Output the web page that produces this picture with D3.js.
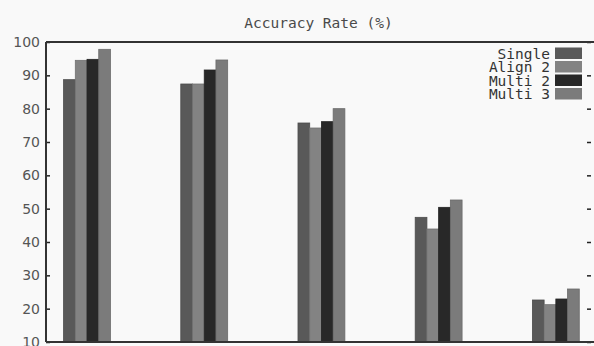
<!DOCTYPE html>
<html>
<head>
<meta charset="utf-8">
<script src="https://cdn.jsdelivr.net/npm/d3@7"></script>
<style>
body { margin: 0; background: #f9f9f9; }
svg { display: block; }
</style>
</head>
<body>
<div class="graph"></div>
<script>
// data
var groups = [0, 1, 2, 3, 4];
var seriesNames = ["Single", "Align 2", "Multi 2", "Multi 3"];
var single = [88.7, 87.4, 75.7, 47.4, 22.6];
var align2 = [94.5, 87.4, 74.2, 43.9, 21.2];
var multi2 = [94.8, 91.6, 76.1, 50.4, 22.9];
var multi3 = [97.8, 94.6, 80.0, 52.6, 25.9];
var yTicks = [10, 20, 30, 40, 50, 60, 70, 80, 90, 100];

var seriesColors = ["#595959", "#838383", "#282828", "#7b7b7b"];
var allSeries = [single, align2, multi2, multi3];

var width = 594, height = 346;
var plotLeft = 46, plotRight = 591, plotTop = 42, plotBottom = 342;

var svg = d3.select(".graph").append("svg")
	.attr("width", width)
	.attr("height", height);

var xScale = d3.scaleLinear().domain([-0.35, 4.3]).range([plotLeft, plotRight]);
var yScale = d3.scaleLinear().domain([10, 100]).range([plotBottom, plotTop]);
var barW = 0.1;

// title, centred over the plot
svg.append("text")
	.attr("x", (plotLeft + plotRight) / 2)
	.attr("y", 28)
	.attr("text-anchor", "middle")
	.attr("font-family", "DejaVu Sans Mono, monospace")
	.attr("font-size", 14.5)
	.attr("fill", "#4a4a4a")
	.text("Accuracy Rate (%)");

// bars
allSeries.forEach(function(vals, s) {
	svg.append("g").selectAll("rect")
		.data(groups)
		.enter()
		.append("rect")
		.attr("x", function(g){ return xScale(g - 2*barW + s*barW); })
		.attr("width", xScale(barW) - xScale(0))
		.attr("y", function(g){ return yScale(vals[g]); })
		.attr("height", function(g){ return yScale(10) - yScale(vals[g]); })
		.style("fill", seriesColors[s])
		.style("stroke", d3.color(seriesColors[s]).darker(0.4))
		.style("stroke-width", 0.8);
});

// axes
var yAxis = d3.axisLeft(yScale).tickValues(yTicks).tickSize(-4).tickPadding(10);
var gy = svg.append("g")
	.attr("transform", "translate(" + plotLeft + ",0)")
	.call(yAxis);
gy.select(".domain").remove();
gy.selectAll("line").attr("stroke", "#222").attr("stroke-width", 1.5);
gy.selectAll("text")
	.attr("font-family", "DejaVu Sans, sans-serif")
	.attr("font-size", 14)
	.attr("fill", "#555")
	.attr("dx", 4);

var yAxisR = d3.axisRight(yScale).tickValues(yTicks).tickSize(-4).tickFormat("");
var gr = svg.append("g")
	.attr("transform", "translate(" + plotRight + ",0)")
	.call(yAxisR);
gr.select(".domain").remove();
gr.selectAll("line").attr("stroke", "#222").attr("stroke-width", 1.5);

// frame
svg.append("line").attr("x1", plotLeft).attr("x2", plotLeft).attr("y1", plotTop).attr("y2", plotBottom)
	.attr("stroke", "#333").attr("stroke-width", 2);
svg.append("line").attr("x1", plotLeft).attr("x2", plotRight + 3).attr("y1", plotTop).attr("y2", plotTop)
	.attr("stroke", "#333").attr("stroke-width", 2);
svg.append("line").attr("x1", plotLeft).attr("x2", plotRight + 3).attr("y1", plotBottom).attr("y2", plotBottom)
	.attr("stroke", "#333").attr("stroke-width", 2);

// legend
var legend = svg.append("g").selectAll("g")
	.data(seriesNames)
	.enter()
	.append("g")
	.attr("transform", function(d, i){ return "translate(0," + (47.5 + i*13.5) + ")"; });

legend.append("rect")
	.attr("x", 555)
	.attr("y", 0)
	.attr("width", 27)
	.attr("height", 11.5)
	.style("fill", function(d, i){ return seriesColors[i]; });

legend.append("text")
	.attr("x", 550)
	.attr("y", 11)
	.attr("text-anchor", "end")
	.attr("font-family", "DejaVu Sans Mono, monospace")
	.attr("font-size", 14.5)
	.attr("fill", "#333")
	.text(function(d){ return d; });
</script>
</body>
</html>
